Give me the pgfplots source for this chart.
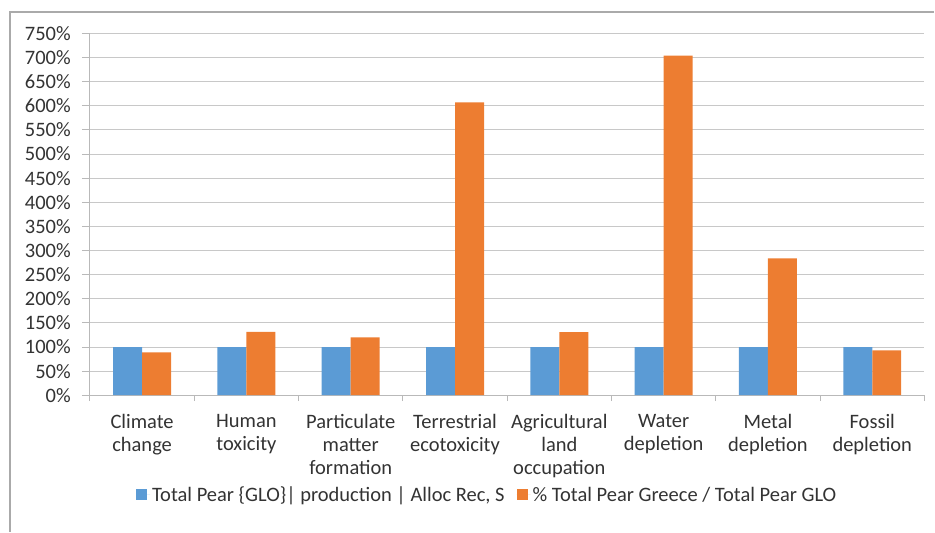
\documentclass[border=0pt]{standalone}
\usepackage{pgfplots}
\pgfplotsset{compat=1.18}
\usepackage{fontspec}
\setmainfont{Carlito}
\definecolor{cblue}{HTML}{5B9BD5}
\definecolor{corange}{HTML}{ED7D31}
\definecolor{gridc}{RGB}{200,200,200}
\definecolor{axc}{RGB}{185,185,185}
\definecolor{bordc}{RGB}{170,170,170}
\begin{document}
\begin{tikzpicture}[x=1pt,y=1pt]
\path (0,0) rectangle (935,532);
\draw[bordc,line width=1.2pt] (10,0) -- (10,520) -- (935,520);
\begin{axis}[
  at={(90pt,136.5pt)}, anchor=south west,
  scale only axis, width=835pt, height=362pt,
  xmin=-0.5, xmax=7.5, ymin=0, ymax=750,
  ybar=0pt, bar width=29pt,
  axis x line*=bottom, axis y line*=left,
  axis line style={axc, line width=1pt},
  xtick={0,...,7},
  xticklabels={Climate\\change, Human\\toxicity, Particulate\\matter\\formation, Terrestrial\\ecotoxicity, Agricultural\\land\\occupation, Water\\depletion, Metal\\depletion, Fossil\\depletion},
  major x tick style={draw=none},
  minor xtick={-0.5,0.5,...,7.5},
  minor x tick style={axc, line width=1pt},
  tick align=outside,
  minor tick length=6pt,
  ytick={0,50,...,750},
  major y tick style={axc, line width=1pt},
  major tick length=8pt,
  ymajorgrids, grid style={gridc, line width=1pt},
  yticklabel={\pgfmathprintnumber{\tick}\%},
  /pgf/number format/assume math mode=true,
  tick label style={font=\fontsize{20.5}{23}\selectfont, text=black!80},
  xticklabel style={align=center, inner sep=0pt, yshift=-11pt},
  yticklabel style={inner sep=0pt, xshift=-11pt},
  legend style={at={(0.476,-0.275)}, anchor=center, draw=none, fill=none,
    legend columns=2, font=\fontsize{20.5}{23}\selectfont, text=black!80,
    /tikz/every even column/.append style={column sep=10pt}},
  legend image code/.code={\fill[#1] (0pt,-5.5pt) rectangle (11pt,5.5pt); \path (0pt,0pt) -- (14pt,0pt);},
]
\addplot[fill=cblue, draw=none] coordinates {(0,100) (1,100) (2,100) (3,100) (4,100) (5,100) (6,100) (7,100)};
\addplot[fill=corange, draw=none] coordinates {(0,88.7) (1,131.6) (2,119.8) (3,607) (4,131) (5,704) (6,283.5) (7,92.8)};
\legend{{Total Pear \{GLO\}| production | Alloc Rec, S}, {\% Total Pear Greece / Total Pear GLO}}
\end{axis}
\end{tikzpicture}
\end{document}
